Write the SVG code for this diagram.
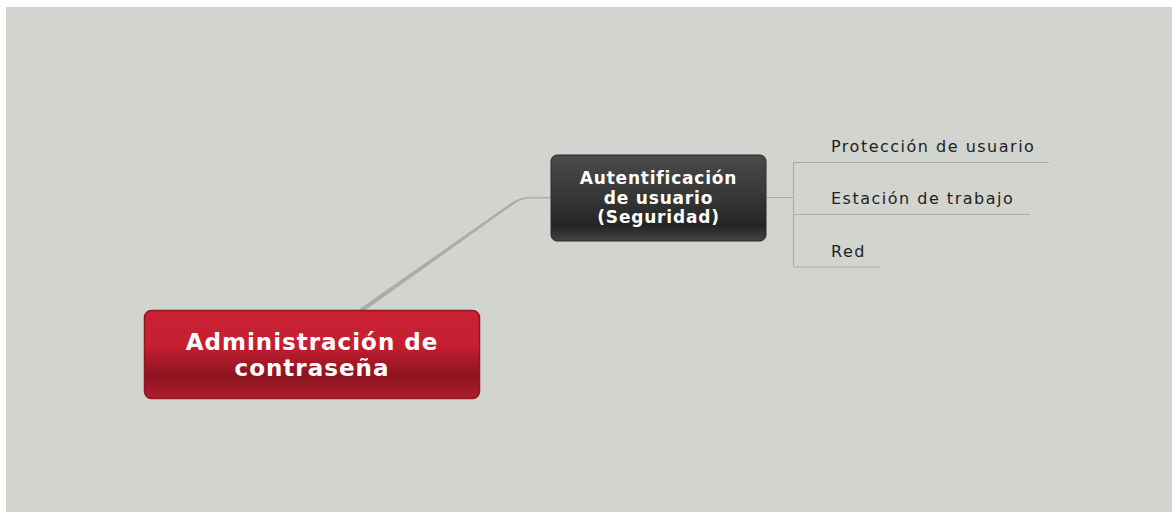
<svg xmlns="http://www.w3.org/2000/svg" width="1172" height="512" viewBox="0 0 1172 512">
<defs>
<linearGradient id="gRed" x1="0" y1="0" x2="0" y2="1">
<stop offset="0" stop-color="#cb2133"/>
<stop offset="0.4" stop-color="#c41f30"/>
<stop offset="0.75" stop-color="#8c1320"/>
<stop offset="1" stop-color="#b01c2b"/>
</linearGradient>
<linearGradient id="gDark" x1="0" y1="0" x2="0" y2="1">
<stop offset="0" stop-color="#4a4a4a"/>
<stop offset="0.45" stop-color="#383838"/>
<stop offset="0.82" stop-color="#242424"/>
<stop offset="1" stop-color="#444444"/>
</linearGradient>
<style>
.nodeText{font-family:"DejaVu Sans",Verdana,sans-serif;font-weight:bold;fill:#ffffff;text-anchor:middle}
.leaf{font-family:"DejaVu Sans",Verdana,sans-serif;font-size:16px;fill:#222222;letter-spacing:1.5px}
.line{stroke:#a9aaa8;stroke-width:1;fill:none}
</style>
</defs>
<rect x="6" y="7" width="1166" height="505" fill="#d2d4d0"/>
<g id="connectors">
<path d="M295,354 L511,203 Q519,197 530,197 L551,197 L551,198.5 L530,198.5 Q521,198.5 514,204 L304,354 Z" fill="#adaeab"/>
<path class="line" d="M766,197.5 H793.5 M793.5,162.5 V267 M793.5,162.5 H1049 M793.5,214.5 H1030 M793.5,267 H879"/>
</g>
<g id="root">
<rect x="144.5" y="310.5" width="335" height="88" rx="7" fill="url(#gRed)" stroke="#8e1822" stroke-width="1.5"/>
<text class="nodeText" font-size="23" letter-spacing="1" x="312" y="350">Administración de</text>
<text class="nodeText" font-size="23" letter-spacing="1" x="312" y="376">contraseña</text>
</g>
<g id="auth">
<rect x="551" y="155" width="215" height="86" rx="6" fill="url(#gDark)" stroke="#2c2c2c" stroke-width="1"/>
<text class="nodeText" font-size="17" letter-spacing="0.8" x="658.5" y="184">Autentificación</text>
<text class="nodeText" font-size="17" letter-spacing="0.8" x="658.5" y="204">de usuario</text>
<text class="nodeText" font-size="17" letter-spacing="0.8" x="658.5" y="223">(Seguridad)</text>
</g>
<g id="leaf1"><text class="leaf" x="831" y="152">Protección de usuario</text></g>
<g id="leaf2"><text class="leaf" x="831" y="204">Estación de trabajo</text></g>
<g id="leaf3"><text class="leaf" x="831" y="257">Red</text></g>
</svg>
